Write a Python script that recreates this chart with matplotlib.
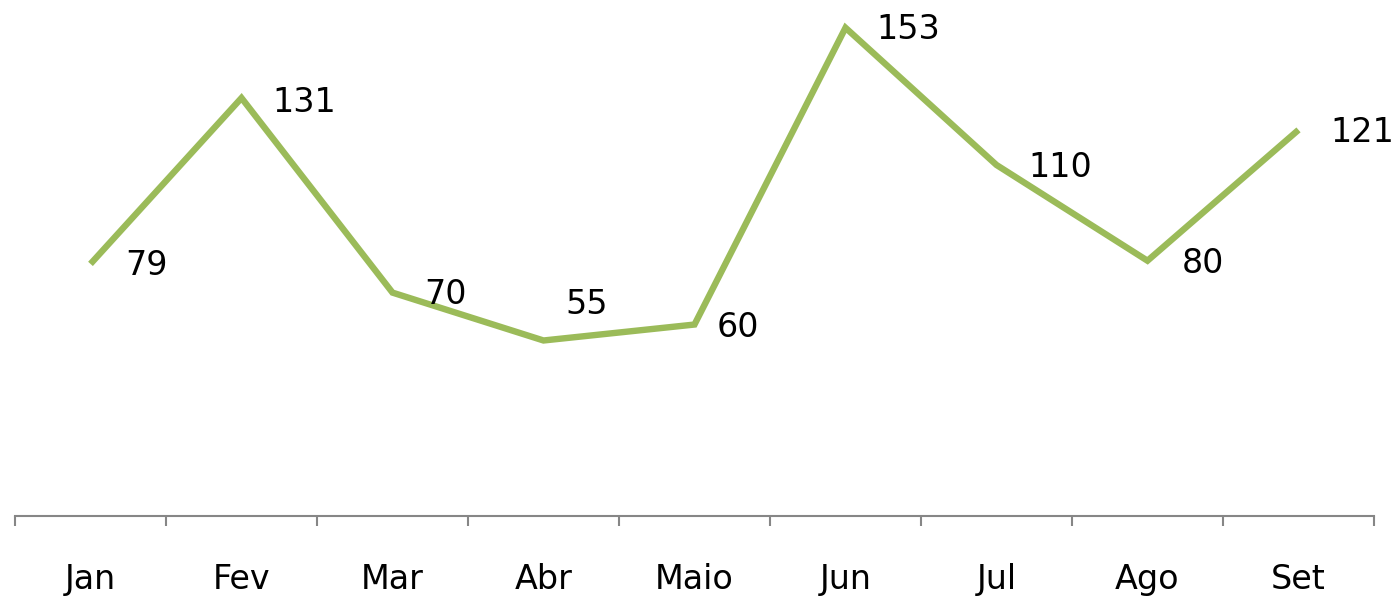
import matplotlib
matplotlib.use("Agg")
import matplotlib.pyplot as plt
import numpy as np

months = ["Jan", "Fev", "Mar", "Abr", "Maio", "Jun", "Jul", "Ago", "Set"]
values = [79, 131, 70, 55, 60, 153, 110, 80, 121]

# label offsets in points (style only)
label_offsets = [(40, -1), (45, -3), (38, -1), (31, 26), (31, -2), (45, -1), (46, -2), (40, -2), (46, -2)]

plt.rcParams['font.family'] = ['DejaVu Sans']

fig = plt.figure(figsize=(13.98, 5.97), dpi=100)
ax = fig.add_axes([15/1398, 1 - 516/597, (1374 - 15)/1398, 516/597])

x = np.arange(len(months))
ax.plot(x, values, color="#9BBB59", lw=4.6, solid_joinstyle="miter", solid_capstyle="butt")

for xi, v, off in zip(x, values, label_offsets):
    ax.annotate(str(v), (xi, v), xytext=off, textcoords="offset points",
                ha="center", va="center", fontsize=24, color="black")

ax.set_xlim(-0.5, len(months) - 0.5)
ax.set_ylim(0, 161.7)
for s in ["top", "right", "left"]:
    ax.spines[s].set_visible(False)
ax.spines["bottom"].set_color("#868686")
ax.spines["bottom"].set_linewidth(1.5)
ax.set_yticks([])
ax.set_xticks(x)
ax.set_xticklabels(months, fontsize=24)
ax.set_xticks(np.arange(-0.5, len(months)), minor=True)
ax.tick_params(axis="x", which="major", length=0, pad=33.5)
ax.tick_params(axis="x", which="minor", length=7.5, width=1.5, color="#868686", direction="out")

fig.savefig("out.png", dpi=100)
